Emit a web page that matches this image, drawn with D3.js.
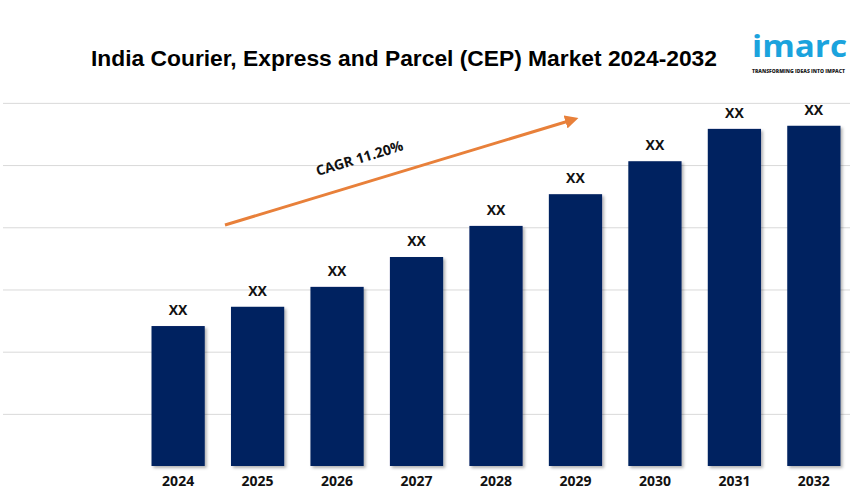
<!DOCTYPE html>
<html>
<head>
<meta charset="utf-8">
<script src="https://cdn.jsdelivr.net/npm/d3@7"></script>
<style>
  html, body { margin: 0; padding: 0; background: #fff; }
  svg { display: block; }
</style>
</head>
<body>
<svg id="chart" width="850" height="493"></svg>
<script>
const title = "India Courier, Express and Parcel (CEP) Market 2024-2032";
const years = ["2024", "2025", "2026", "2027", "2028", "2029", "2030", "2031", "2032"];
const values = [22.5, 25.6, 28.8, 33.6, 38.6, 43.7, 49.0, 54.2, 54.7];
const barLabels = ["XX", "XX", "XX", "XX", "XX", "XX", "XX", "XX", "XX"];
const gridValues = [8.3, 18.3, 28.3, 38.3, 48.3, 58.3];
const cagrText = "CAGR 11.20%";

const svg = d3.select("#chart");

const defs = svg.append("defs");
const f = defs.append("filter").attr("id", "shadow").attr("x", "-10%").attr("y", "-10%").attr("width", "130%").attr("height", "130%");
f.append("feDropShadow").attr("dx", 2).attr("dy", 2).attr("stdDeviation", 1.5).attr("flood-color", "#000").attr("flood-opacity", 0.3);

const mk = defs.append("marker").attr("id", "arrowhead")
  .attr("viewBox", "0 0 10 10").attr("refX", 5).attr("refY", 5)
  .attr("markerWidth", 4.5).attr("markerHeight", 4.5).attr("orient", "auto");
mk.append("path").attr("d", "M0,0 L10,5 L0,10 z").attr("fill", "#E8803A");

const x = d3.scaleBand().domain(years).range([138, 854]).paddingInner(0.33).paddingOuter(0.17);
const y = d3.scaleLinear().domain([0, 60]).range([466, 92.8]);

// gridlines
svg.append("g").selectAll("line").data(gridValues).join("line")
  .attr("x1", 3).attr("x2", 850)
  .attr("y1", d => y(d)).attr("y2", d => y(d))
  .attr("stroke", "#d9d9d9").attr("stroke-width", 1);

// bars
svg.append("g").selectAll("rect").data(years).join("rect")
  .attr("x", d => x(d)).attr("width", x.bandwidth())
  .attr("y", (d, i) => y(values[i]))
  .attr("height", (d, i) => y(0) - y(values[i]))
  .attr("fill", "#002060")
  .attr("filter", "url(#shadow)");

// value labels
svg.append("g").selectAll("text").data(years).join("text")
  .attr("x", d => x(d) + x.bandwidth() / 2)
  .attr("y", (d, i) => y(values[i]) - 11)
  .attr("text-anchor", "middle")
  .attr("font-family", "Open Sans, sans-serif").attr("font-weight", 700)
  .attr("font-size", 14).attr("fill", "#111")
  .text((d, i) => barLabels[i]);

// x axis labels
const xAxis = d3.axisBottom(x).tickSize(0).tickPadding(10);
const gx = svg.append("g").attr("transform", `translate(0,${y(0)})`).call(xAxis);
gx.select(".domain").remove();
gx.selectAll("text")
  .attr("font-family", "Open Sans, sans-serif").attr("font-weight", 700)
  .attr("font-size", 14).attr("fill", "#111");

// title
svg.append("text").attr("x", 404).attr("y", 66).attr("text-anchor", "middle")
  .attr("font-family", "Liberation Sans, Arial, sans-serif").attr("font-weight", 700)
  .attr("font-size", 22.8).attr("fill", "#000").text(title);

// CAGR arrow
svg.append("line").attr("x1", 225).attr("y1", 225).attr("x2", 572).attr("y2", 120)
  .attr("stroke", "#E8803A").attr("stroke-width", 3)
  .attr("marker-end", "url(#arrowhead)");
const ang = Math.atan2(120 - 225, 572 - 225) * 180 / Math.PI;
svg.append("text")
  .attr("transform", `translate(361,163) rotate(${ang})`)
  .attr("text-anchor", "middle")
  .attr("font-family", "Open Sans, sans-serif").attr("font-weight", 700)
  .attr("font-size", 14).attr("fill", "#111").text(cagrText);

// logo
const logo = svg.append("g");
logo.append("text").attr("x", 752).attr("y", 57)
  .attr("font-family", "Open Sans, sans-serif").attr("font-weight", 700)
  .attr("font-size", 30).attr("fill", "#1BA3DD")
  .attr("textLength", 95).attr("lengthAdjust", "spacingAndGlyphs").text("imarc");
logo.append("text").attr("x", 752).attr("y", 73)
  .attr("font-family", "Open Sans, sans-serif").attr("font-weight", 800)
  .attr("font-size", 5.2).attr("fill", "#222")
  .attr("textLength", 93).attr("lengthAdjust", "spacingAndGlyphs").text("TRANSFORMING IDEAS INTO IMPACT");
</script>
</body>
</html>
